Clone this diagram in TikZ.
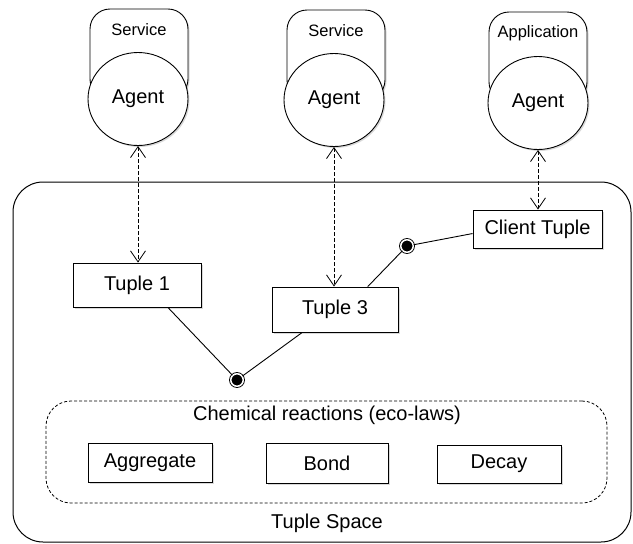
\documentclass[tikz,border=0pt]{standalone}
\usepackage{fontspec}
\setmainfont{Liberation Sans}
\usetikzlibrary{arrows.meta,shapes.geometric,shadows}
\begin{document}
\begin{tikzpicture}[x=1pt,y=-1pt,
  font=\fontsize{20}{24}\selectfont,
  shad/.style={drop shadow={shadow xshift=1.5pt,shadow yshift=-1.5pt,opacity=0.15,fill=black}},
  box/.style={draw=black, fill=white, line width=0.9pt, inner sep=0pt, shad},
  agentc/.style={ellipse, draw, fill=white, line width=0.9pt, minimum width=100pt, minimum height=93pt, inner sep=0pt, shad},
  role/.style={draw, fill=white, rounded corners=20pt, line width=0.9pt, minimum width=98pt, minimum height=90pt, inner sep=0pt, shad},
  small/.style={font=\fontsize{16.5}{19}\selectfont},
  link/.style={dash pattern=on 3.5pt off 2.5pt, line width=0.8pt, {Straight Barb[length=11pt,width=15pt]}-{Straight Barb[length=11pt,width=15pt]}},
  dot/.style={circle, draw=black, fill=black, double=white, double distance=1.5pt, line width=0.9pt, inner sep=0pt, minimum size=12.5pt},
  wire/.style={line width=0.9pt}]
\useasboundingbox (0,0) rectangle (633,544);

% tuple space
\node[draw, rounded corners=30pt, line width=1pt, minimum width=618pt, minimum height=360pt, inner sep=0pt] (space) at (322,362) {};
\node (spacelab) at (327,523) {Tuple Space};

% chemical reactions
\node[draw, dash pattern=on 3pt off 2pt, line width=0.8pt, rounded corners=25pt, minimum width=561pt, minimum height=102pt, inner sep=0pt] (chem) at (326.5,452) {};
\node (chemlab) at (327,415) {Chemical reactions (eco-laws)};
\node[box, minimum width=124pt, minimum height=39pt] (agg) at (150,462.5) {Aggregate};
\node[box, minimum width=122pt, minimum height=40pt] (bond) at (327,463) {Bond};
\node[box, minimum width=124pt, minimum height=38pt] (decay) at (499,464) {Decay};

% tuples
\node[box, minimum width=128pt, minimum height=44pt] (t1) at (137,285) {Tuple 1};
\node[box, minimum width=126pt, minimum height=45pt] (t3) at (335,309.5) {Tuple 3};
\node[box, minimum width=129pt, minimum height=38pt] (ct) at (537.5,229) {Client Tuple};

% agents
\node[role] (r1) at (139,54) {};
\node[small] (r1lab) at (139,30) {Service};
\node[agentc] (ag1) at (138,99) {Agent};

\node[role] (r2) at (336,55) {};
\node[small] (r2lab) at (336,31) {Service};
\node[agentc] (ag2) at (334,100) {Agent};

\node[role] (r3) at (538,57) {};
\node[small] (r3lab) at (538,33) {Application};
\node[agentc] (ag3) at (538,103) {Agent};

% dashed links
\draw[link] (ag1.south) -- (ag1.south |- t1.north);
\draw[link] (ag2.south) -- (ag2.south |- t3.north);
\draw[link] (ag3.south) -- (ag3.south |- ct.north);

% bonds
\node[dot] (d1) at (237,380) {};
\node[dot] (d2) at (407,246) {};
\draw[wire] (t1.-36) -- (d1);
\draw[wire] (d1) -- (t3.-145);
\draw[wire] (t3.35) -- (d2);
\draw[wire] (d2) -- (ct.-176);
\end{tikzpicture}
\end{document}
